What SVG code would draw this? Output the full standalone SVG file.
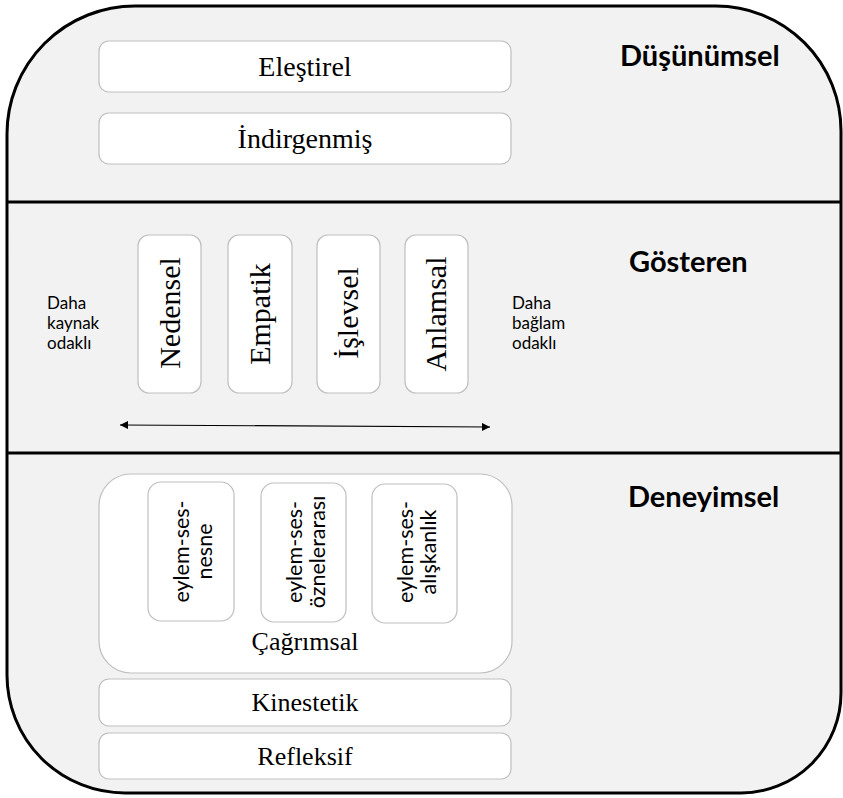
<svg xmlns="http://www.w3.org/2000/svg" width="843" height="798" viewBox="0 0 843 798">
  <defs>
    <style>
      .frame { fill: #f2f2f2; stroke: #000; stroke-width: 3; }
      .divider { stroke: #000; stroke-width: 3; fill: none; }
      .box { fill: #ffffff; stroke: #bfbfbf; stroke-width: 1.2; }
      .serif { font-family: "Liberation Serif", "Times New Roman", serif; fill: #000; }
      .big { font-size: 28px; }
      .vert { font-size: 30px; }
      .mid { font-size: 26px; }
      .head { font-family: Lato, "Liberation Sans", sans-serif; font-weight: 700; font-size: 29px; fill: #000; }
      .small { font-family: Lato, "Liberation Sans", sans-serif; font-size: 17px; fill: #000; }
      .vsans { font-family: Lato, "Liberation Sans", sans-serif; font-size: 21.5px; fill: #000; }
      .arrow { stroke: #000; stroke-width: 1.2; fill: none; }
    </style>
    <marker id="ah" viewBox="0 0 10 10" refX="10" refY="5" markerWidth="9" markerHeight="8" markerUnits="userSpaceOnUse" orient="auto-start-reverse">
      <path d="M0,0 L10,5 L0,10 z" fill="#000"/>
    </marker>
  </defs>

  <g id="frame">
    <path class="frame" d="M7,134 A128,128 0 0 1 135,6 H716 A125,125 0 0 1 841,131 V693 A100,100 0 0 1 741,793 H125 A118,118 0 0 1 7,675 Z"/>
    <line class="divider" x1="7" y1="202" x2="841" y2="202"/>
    <line class="divider" x1="7" y1="453" x2="841" y2="453"/>
  </g>

  <g id="heading-dusunumsel"><text class="head" x="620" y="66">Düşünümsel</text></g>
  <g id="heading-gosteren"><text class="head" x="629" y="272">Gösteren</text></g>
  <g id="heading-deneyimsel"><text class="head" x="628" y="507">Deneyimsel</text></g>

  <g id="elestirel">
    <rect class="box" x="99" y="41" width="412" height="51" rx="10"/>
    <text class="serif big" x="305" y="76" text-anchor="middle">Eleştirel</text>
  </g>
  <g id="indirgenmis">
    <rect class="box" x="99" y="113" width="412" height="51" rx="10"/>
    <text class="serif big" x="305" y="148" text-anchor="middle">İndirgenmiş</text>
  </g>

  <g id="label-kaynak">
    <text class="small" x="47" y="309"><tspan x="47" y="309">Daha</tspan><tspan x="47" y="329">kaynak</tspan><tspan x="47" y="349">odaklı</tspan></text>
  </g>
  <g id="label-baglam">
    <text class="small" x="512" y="309"><tspan x="512" y="309">Daha</tspan><tspan x="512" y="329">bağlam</tspan><tspan x="512" y="349">odaklı</tspan></text>
  </g>

  <g id="nedensel">
    <rect class="box" x="138" y="235" width="63" height="158" rx="11"/>
    <text class="serif vert" transform="translate(180,313) rotate(-90)" text-anchor="middle">Nedensel</text>
  </g>
  <g id="empatik">
    <rect class="box" x="228" y="235" width="64" height="158" rx="11"/>
    <text class="serif vert" transform="translate(270,314) rotate(-90)" text-anchor="middle">Empatik</text>
  </g>
  <g id="islevsel">
    <rect class="box" x="317" y="235" width="63" height="158" rx="11"/>
    <text class="serif vert" transform="translate(358,313) rotate(-90)" text-anchor="middle">İşlevsel</text>
  </g>
  <g id="anlamsal">
    <rect class="box" x="405" y="235" width="63" height="158" rx="11"/>
    <text class="serif vert" transform="translate(446,314) rotate(-90)" text-anchor="middle">Anlamsal</text>
  </g>

  <g id="cagrimsal">
    <rect class="box" x="99" y="474" width="413" height="199" rx="32"/>
    <text class="serif mid" x="305" y="650" text-anchor="middle">Çağrımsal</text>
  </g>
  <g id="eylem-ses-nesne">
    <rect class="box" x="148" y="482" width="86" height="139" rx="13"/>
    <text class="vsans" transform="translate(191,551.5) rotate(-90)" text-anchor="middle"><tspan x="0" y="-2">eylem-ses-</tspan><tspan x="0" y="21">nesne</tspan></text>
  </g>
  <g id="eylem-ses-oznelerarasi">
    <rect class="box" x="261" y="483" width="85" height="139" rx="13"/>
    <text class="vsans" transform="translate(303.5,552) rotate(-90)" text-anchor="middle"><tspan x="0" y="-2">eylem-ses-</tspan><tspan x="0" y="21">öznelerarası</tspan></text>
  </g>
  <g id="eylem-ses-aliskanlik">
    <rect class="box" x="372" y="484" width="85" height="139" rx="13"/>
    <text class="vsans" transform="translate(414.5,552) rotate(-90)" text-anchor="middle"><tspan x="0" y="-2">eylem-ses-</tspan><tspan x="0" y="21">alışkanlık</tspan></text>
  </g>

  <g id="kinestetik">
    <rect class="box" x="99" y="679" width="412" height="47" rx="10"/>
    <text class="serif mid" x="305" y="711" text-anchor="middle">Kinestetik</text>
  </g>
  <g id="refleksif">
    <rect class="box" x="99" y="733" width="412" height="46" rx="10"/>
    <text class="serif mid" x="305" y="765" text-anchor="middle">Refleksif</text>
  </g>

  <g id="connectors">
    <line class="arrow" x1="120" y1="425" x2="490" y2="427" marker-start="url(#ah)" marker-end="url(#ah)"/>
  </g>
</svg>
